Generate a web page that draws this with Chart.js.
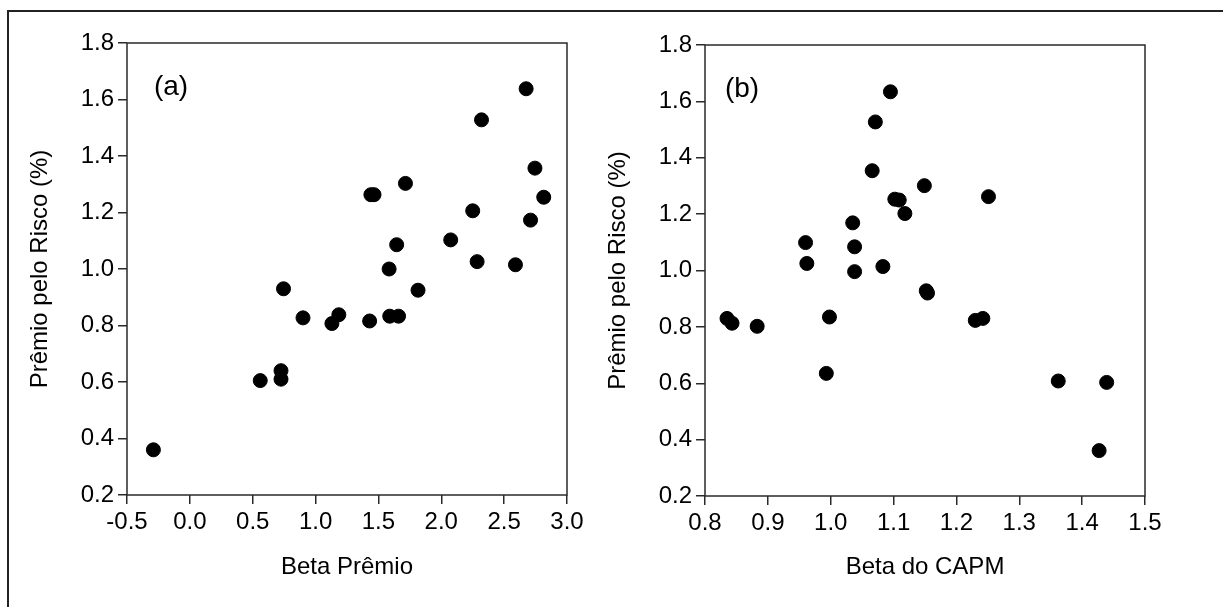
<!DOCTYPE html>
<html>
<head>
<meta charset="utf-8">
<script src="https://cdn.jsdelivr.net/npm/chart.js@4.4.1/dist/chart.umd.min.js"></script>
<style>
  html, body { margin: 0; padding: 0; background: #fff; }
  body { width: 1223px; height: 607px; position: relative; overflow: hidden; }
  #frameTop { position: absolute; left: 7px; top: 10px; width: 1216px; height: 2px; background: #222; }
  #frameLeft { position: absolute; left: 7px; top: 10px; width: 2px; height: 597px; background: #222; }
  canvas { position: absolute; top: 0; }
  #chartA { left: 0; }
  #chartB { left: 578px; }
</style>
</head>
<body>
<div id="frameTop"></div>
<div id="frameLeft"></div>
<canvas id="chartA" width="600" height="607"></canvas>
<canvas id="chartB" width="600" height="607"></canvas>
<script>
// panel (a): Beta Prêmio vs prêmio pelo risco
const betaPremio = [-0.29, 0.56, 0.725, 0.725, 0.745, 0.90, 1.13, 1.185, 1.43, 1.44, 1.465, 1.585, 1.59, 1.66, 1.645, 1.715, 1.815, 2.075, 2.25, 2.285, 2.32, 2.59, 2.675, 2.745, 2.71, 2.815];
const premioA = [0.36, 0.605, 0.64, 0.61, 0.93, 0.827, 0.807, 0.838, 0.816, 1.263, 1.263, 1.00, 0.833, 0.833, 1.086, 1.303, 0.925, 1.103, 1.206, 1.026, 1.528, 1.015, 1.638, 1.357, 1.173, 1.254];

// panel (b): Beta do CAPM vs prêmio pelo risco
const betaCapm = [0.835, 0.843, 0.883, 0.960, 0.962, 0.993, 0.998, 1.035, 1.038, 1.038, 1.066, 1.071, 1.083, 1.095, 1.102, 1.109, 1.118, 1.149, 1.152, 1.154, 1.230, 1.242, 1.251, 1.362, 1.427, 1.439];
const premioB = [0.830, 0.813, 0.802, 1.099, 1.025, 0.635, 0.835, 1.169, 1.084, 0.996, 1.354, 1.527, 1.014, 1.634, 1.253, 1.250, 1.202, 1.301, 0.928, 0.920, 0.823, 0.830, 1.262, 0.608, 0.361, 0.603];

const xRangeA = [-0.5, 3.0];
const xRangeB = [0.8, 1.5];
const yRange = [0.2, 1.8];

const FONT = "'Liberation Sans', Arial, Helvetica, sans-serif";
const LINE = "#2a2a2a";

// box around plot area + panel letter
const boxPlugin = {
  id: "box",
  afterDraw(chart, args, opts) {
    const { ctx, chartArea: a } = chart;
    ctx.save();
    ctx.strokeStyle = LINE;
    ctx.lineWidth = 1.5;
    ctx.strokeRect(a.left, a.top, a.right - a.left, a.bottom - a.top);
    ctx.fillStyle = "#000";
    ctx.font = "28px " + FONT;
    ctx.textAlign = "center";
    ctx.textBaseline = "middle";
    ctx.fillText(opts.label, a.left + opts.dx, a.top + 44);
    ctx.restore();
  }
};

function makeChart(id, xs, ys, xRange, xStep, xTitle, label, dx, top, bottom) {
  const points = xs.map((x, i) => ({ x: x, y: ys[i] }));
  return new Chart(document.getElementById(id), {
    type: "scatter",
    data: {
      datasets: [{
        data: points,
        backgroundColor: "#000",
        borderColor: "#000",
        borderWidth: 1,
        pointRadius: 7,
        pointHoverRadius: 7
      }]
    },
    options: {
      responsive: false,
      animation: false,
      devicePixelRatio: 1,
      layout: { padding: { top: top, right: 33, left: 0, bottom: 0 } },
      plugins: {
        legend: { display: false },
        tooltip: { enabled: false },
        box: { label: label, dx: dx }
      },
      scales: {
        x: {
          type: "linear",
          min: xRange[0],
          max: xRange[1],
          afterFit: (axis) => { axis.height = 607 - bottom; },
          border: { display: false },
          grid: { drawOnChartArea: false, drawTicks: true, tickLength: 9, color: LINE, lineWidth: 1.5 },
          ticks: {
            stepSize: xStep,
            color: "#000",
            padding: 4,
            maxRotation: 0,
            font: { family: FONT, size: 24 },
            callback: (v) => Number(v).toFixed(1)
          },
          title: {
            display: true,
            text: xTitle,
            color: "#000",
            font: { family: FONT, size: 24 },
            padding: { top: 0, bottom: 25 }
          }
        },
        y: {
          type: "linear",
          min: yRange[0],
          max: yRange[1],
          afterFit: (axis) => { axis.width = 127; },
          border: { display: false },
          grid: { drawOnChartArea: false, drawTicks: true, tickLength: 9, color: LINE, lineWidth: 1.5 },
          ticks: {
            stepSize: 0.2,
            color: "#000",
            padding: 4,
            font: { family: FONT, size: 24 },
            callback: (v) => Number(v).toFixed(1)
          },
          title: {
            display: true,
            text: "Prêmio pelo Risco (%)",
            color: "#000",
            font: { family: FONT, size: 24 },
            padding: { top: 26, bottom: 0 }
          }
        }
      }
    },
    plugins: [boxPlugin]
  });
}

makeChart("chartA", betaPremio, premioA, xRangeA, 0.5, "Beta Prêmio", "(a)", 44, 43, 495);
makeChart("chartB", betaCapm, premioB, xRangeB, 0.1, "Beta do CAPM", "(b)", 37, 45, 496);
</script>
</body>
</html>
